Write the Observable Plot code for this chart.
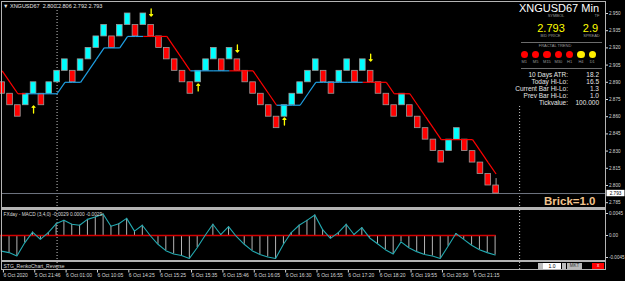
<!DOCTYPE html>
<html>
<head>
<meta charset="utf-8">
<script src="https://cdn.jsdelivr.net/npm/d3@7"></script>
<script src="https://cdn.jsdelivr.net/npm/@observablehq/plot@0.6"></script>
<style>
  html, body { margin: 0; padding: 0; background: #000; }
  #chart { position: relative; width: 625px; height: 281px; background: #000; overflow: hidden;
           font-family: "Liberation Sans", Arial, sans-serif; color: #ddd; }
  #chart svg { position: absolute; left: 0; }
  .ov { position: absolute; white-space: nowrap; line-height: 1; }
  .ln { position: absolute; background: #b4b4b4; }
</style>
</head>
<body>
<div id="chart"></div>
<script>
// ---------------- data ----------------
const symbol = "XNGUSD67";
const timeframe = "Min";
const headerOHLC = ["2.800", "2.806", "2.792", "2.793"];
const brickOpen  = [2.89,2.88,2.87,2.87,2.88,2.88,2.88,2.89,2.90,2.90,2.90,2.91,2.92,2.93,2.93,2.93,2.94,2.94,2.94,2.94,2.93,2.92,2.91,2.90,2.89,2.89,2.90,2.91,2.91,2.91,2.91,2.90,2.89,2.88,2.87,2.86,2.86,2.87,2.88,2.89,2.90,2.90,2.89,2.89,2.90,2.90,2.90,2.90,2.89,2.88,2.87,2.87,2.87,2.86,2.85,2.84,2.83,2.83,2.84,2.84,2.83,2.82,2.81,2.80];
const brickClose = [2.88,2.87,2.86,2.88,2.89,2.87,2.89,2.90,2.91,2.89,2.91,2.92,2.93,2.94,2.92,2.94,2.95,2.93,2.95,2.93,2.92,2.91,2.90,2.89,2.88,2.90,2.91,2.92,2.90,2.92,2.90,2.89,2.88,2.87,2.86,2.85,2.87,2.88,2.89,2.90,2.91,2.89,2.88,2.90,2.91,2.89,2.91,2.89,2.88,2.87,2.86,2.88,2.86,2.85,2.84,2.83,2.82,2.84,2.85,2.83,2.82,2.81,2.80,2.793];
const lastWickHigh = 2.806;
const bidPrice = 2.793;
const trendLine = [2.90,2.89,2.88,2.88,2.88,2.88,2.88,2.88, 2.89,2.89,2.89, 2.90,2.91,2.92, 2.92,2.92, 2.93,2.93,2.93,2.93,2.93,2.93, 2.92,2.91, 2.90,2.90,2.90,2.90,2.90,2.90,2.90,2.90,2.90, 2.89,2.88,2.87, 2.87,2.87,2.87, 2.88, 2.89,2.89,2.89,2.89,2.89,2.89,2.89,2.89,2.89,2.89, 2.88,2.88,2.88, 2.87,2.86,2.85, 2.84,2.84,2.84,2.84,2.84, 2.83,2.82,2.81];
const trendDir = [-1,-1,-1,-1, 1,1,1,1,1,1,1,1,1,1,1,1,1,1,1, -1,-1,-1,-1,-1,-1, 1,1,1,1,1, -1,-1,-1,-1,-1,-1, 1,1,1,1,1,1,1,1,1,1,1, -1,-1,-1,-1,-1,-1,-1,-1,-1,-1,-1,-1,-1,-1,-1,-1,-1];
const fractalIndex = [4, 19, 25, 30, 36, 47];
const fractalPrice = [2.8663, 2.9509, 2.8855, 2.9195, 2.8558, 2.9116];
const fractalDir   = [1, -1, 1, -1, 1, -1];
const macdValues = [-0.0032,-0.0035,-0.0042,-0.0015,0.0007,-0.0008,0.0006,0.0024,0.0031,0.0023,
  0.0021,0.0033,0.0038,0.0044,0.0019,0.0024,0.0035,0.0009,0.0021,0.0000,
  -0.0018,-0.0031,-0.0038,-0.0041,-0.0047,-0.0025,0.0000,0.0023,0.0002,0.0018,
  -0.0002,-0.0018,-0.0031,-0.0039,-0.0044,-0.0047,-0.0018,0.0006,0.0021,0.0031,
  0.0042,0.0012,-0.0006,0.0006,0.0023,0.0002,0.0016,-0.0005,-0.0017,-0.0029,
  -0.0038,-0.0013,-0.0025,-0.0033,-0.0039,-0.0042,-0.0047,-0.0022,0.0004,-0.0008,
  -0.0020,-0.0029,-0.0035,-0.0040];
const macdLabel = "FXday - MACD (3,4,0) -0.0029 0.0000 -0.0029";
const stgLabel = "STG_RenkoChart_Reverse";
const priceTicks = [2.950, 2.935, 2.920, 2.905, 2.890, 2.875, 2.860, 2.845, 2.830, 2.815, 2.800, 2.785];
const macdTicks = [0.0045, 0, -0.0045];
const macdTickLabels = ["0.0045", "0.00", "-0.0045"];
const timeTickIndex = [0, 4, 8, 12, 16, 20, 24, 28, 32, 36, 40, 44, 48, 52, 56, 60];
const timeTickLabels = ["6 Oct 2020","5 Oct 21:46","6 Oct 01:00","6 Oct 10:05","6 Oct 14:25","6 Oct 15:25","6 Oct 15:35","6 Oct 15:46","6 Oct 16:05","6 Oct 16:30","6 Oct 16:55","6 Oct 17:20","6 Oct 18:20","6 Oct 19:55","6 Oct 20:50","6 Oct 21:15"];
const separatorIndex = [7, 66];
const brickSize = "1.0";
const spreadValue = "2.9";
const fractalTF = ["M1","M5","M15","M30","H1","H4","D1"];
const fractalTrendTF = [-1,-1,-1,-1,-1,1,1];
const infoLabels = ["10 Days ATR:", "Today Hi-Lo:", "Current Bar Hi-Lo:", "Prev Bar Hi-Lo:", "Tickvalue:"];
const infoValues = ["18.2", "16.5", "1.3", "1.0", "100.000"];

// ---------------- rendering ----------------
const chart = document.getElementById("chart");
const FONT = "Liberation Sans, Arial, sans-serif";
const idx = d3.range(brickOpen.length);
const X = {domain: [0, brickOpen.length - 1], range: [1.7, 495.6], axis: null};
const baseStyle = {background: "#000", color: "#d8d8d8", fontFamily: FONT, overflow: "visible"};
const C = {up: "#00ffff", down: "#ff0000", tUp: "#1e9fe3", tDown: "#ff0000", sep: "#c8c8c8"};

const main = Plot.plot({
  width: 625, height: 208,
  marginLeft: 1, marginRight: 20, marginTop: 1, marginBottom: 1,
  style: baseStyle,
  x: X,
  y: {domain: [2.785, 2.95], range: [202.2, 13], axis: null},
  color: {type: "identity"},
  marks: [
    Plot.ruleX(separatorIndex, {stroke: C.sep, strokeDasharray: "1,2", strokeWidth: 1}),
    Plot.ruleY([bidPrice], {stroke: "#6e7480", strokeWidth: 1}),
    Plot.ruleX([idx.length - 1], {y1: i => brickOpen[i], y2: () => lastWickHigh, stroke: "#a0a0a0"}),
    Plot.rect(idx, {x1: i => i - 0.36, x2: i => i + 0.36, y1: i => brickOpen[i], y2: i => brickClose[i],
      fill: i => brickClose[i] > brickOpen[i] ? C.up : C.down, stroke: "#9a9a9a", strokeWidth: 0.8}),
    Plot.link(idx.slice(1), {x1: i => i - 1, y1: i => trendLine[i - 1], x2: i => i, y2: i => trendLine[i],
      stroke: i => trendDir[i] > 0 ? C.tUp : C.tDown, strokeWidth: 1.2}),
    Plot.vector(fractalIndex.map((_, k) => k), {x: k => fractalIndex[k], y: k => fractalPrice[k],
      rotate: k => fractalDir[k] > 0 ? 0 : 180, length: 7, anchor: "middle", stroke: "#ffff00", strokeWidth: 1.3}),
    Plot.text([`▼ ${symbol}  ${headerOHLC.join(" ")}`], {frameAnchor: "top-left", dx: 1.5, dy: 2.5,
      lineAnchor: "top", textAnchor: "start", fontSize: 5.5, fill: "#e6e6e6"}),
    Plot.text([`Brick=${brickSize}`], {frameAnchor: "bottom-right", dx: -10, dy: -3, lineAnchor: "bottom",
      textAnchor: "end", fontSize: 11.5, fontWeight: "bold", fill: "#f2c48d"}),
    Plot.axisY({ticks: priceTicks, anchor: "right", tickFormat: d3.format(".3f"), tickSize: 2, tickPadding: 1.5, fontSize: 4.6})
  ]
});
main.style.top = "0px";
chart.appendChild(main);
{
  const ys = main.scale("y");
  const by = ys.apply(bidPrice);
  const s = d3.select(main);
  s.append("rect").attr("x", 606.5).attr("y", by - 3.2).attr("width", 18).attr("height", 6.4).attr("fill", "#fff");
  s.append("text").attr("x", 615.5).attr("y", by).attr("dy", "0.35em").attr("text-anchor", "middle")
    .attr("font-size", 4.6).attr("fill", "#000").attr("font-family", FONT).text(d3.format(".3f")(bidPrice));
}

const macdFmt = new Map(macdTicks.map((t, i) => [t, macdTickLabels[i]]));
const macd = Plot.plot({
  width: 625, height: 54,
  marginLeft: 1, marginRight: 20, marginTop: 2, marginBottom: 2,
  style: baseStyle,
  x: X,
  y: {domain: [-0.0045, 0.0045], range: [49, 5], axis: null},
  marks: [
    Plot.ruleX(separatorIndex, {stroke: C.sep, strokeDasharray: "1,2", strokeWidth: 1}),
    Plot.ruleX(idx, {x: i => i, y1: 0, y2: i => macdValues[i], stroke: "#b4b4b4", strokeWidth: 1, dx: -1}),
    Plot.ruleY([0], {x1: () => -0.25, x2: () => idx.length - 1, stroke: "#d40000", strokeWidth: 1.5}),
    Plot.line(idx, {x: i => i, y: i => macdValues[i], stroke: "#22a9b0", strokeWidth: 1.1, dx: -1}),
    Plot.text([macdLabel], {frameAnchor: "top-left", dx: 2, dy: 1.6, lineAnchor: "top", textAnchor: "start",
      fontSize: 4.8, fill: "#dcdcdc"}),
    Plot.axisY({ticks: macdTicks, anchor: "right", tickFormat: d => macdFmt.get(d), tickSize: 2, tickPadding: 1.5, fontSize: 4.6})
  ]
});
macd.style.top = "208px";
chart.appendChild(macd);

const timeFmt = new Map(timeTickIndex.map((t, i) => [t, timeTickLabels[i]]));
const bottom = Plot.plot({
  width: 625, height: 19,
  marginLeft: 1, marginRight: 20, marginTop: 0, marginBottom: 11,
  style: baseStyle,
  x: X,
  marks: [
    Plot.ruleX(separatorIndex, {stroke: C.sep, strokeDasharray: "1,2", strokeWidth: 1}),
    Plot.text([stgLabel], {frameAnchor: "left", dx: 2, lineAnchor: "middle", textAnchor: "start", fontSize: 5, fill: "#dcdcdc"}),
    Plot.axisX({ticks: timeTickIndex, tickFormat: d => timeFmt.get(d), anchor: "bottom", tickSize: 2.5,
      tickPadding: 0.5, textAnchor: "start", dx: 1.2, fontSize: 5})
  ]
});
bottom.style.top = "262px";
chart.appendChild(bottom);

// ---------------- layout lines ----------------
function box(l, t, w, h, bg, cls = "ln") {
  const d = document.createElement("div");
  d.className = cls;
  Object.assign(d.style, {left: l + "px", top: t + "px", width: w + "px", height: h + "px"});
  if (bg) d.style.background = bg;
  chart.appendChild(d);
  return d;
}
box(1, 1, 605, 1);
box(1, 1, 1, 269);
box(605, 1, 1, 269);
box(1, 207, 605, 3);
box(1, 260, 605, 2);
box(1, 269, 605, 1);

function label(text, x, y, size, color, anchor = "start", extra = {}) {
  const d = document.createElement("div");
  d.className = "ov";
  d.textContent = text;
  const tx = anchor === "end" ? "-100%" : anchor === "middle" ? "-50%" : "0";
  Object.assign(d.style, {left: x + "px", top: y + "px", fontSize: size + "px", color,
    transform: `translate(${tx}, -50%)`}, extra);
  chart.appendChild(d);
  return d;
}

// ---------------- info panel ----------------
box(513, 2, 91, 104, "#000", "ov");
label(`${symbol} ${timeframe}`, 599, 8, 11, "#ffffff", "end");
label("SYMBOL", 556, 16, 4, "#9a9a9a", "middle");
label("TF", 597, 16, 4, "#9a9a9a", "middle");
label(d3.format(".3f")(bidPrice), 551, 28, 11, "#ffff00", "middle");
label(spreadValue, 590.5, 28, 11, "#ffff00", "middle");
label("BID PRICE", 550.5, 36, 4, "#9a9a9a", "middle");
label("SPREAD", 591.5, 36, 4, "#9a9a9a", "middle");
box(521, 42, 81, 1, "#6c6c6c");
label("FRACTAL TREND", 555, 46, 4, "#9a9a9a", "middle");
fractalTF.forEach((tf, k) => {
  const cx = 524.3 + k * 11.33;
  const dot = box(cx - 3.7, 54.3 - 3.7, 7.4, 7.4, fractalTrendTF[k] > 0 ? "#ffee00" : "#ff0000", "ov");
  dot.style.borderRadius = "50%";
  label(tf, cx, 62, 4, "#9a9a9a", "middle");
});
box(521, 68, 81, 1, "#6c6c6c");
infoLabels.forEach((t, k) => {
  label(t, 568, 75 + k * 6.9, 6.5, "#e6e6e6", "end");
  label(infoValues[k], 599, 75 + k * 6.9, 6.5, "#e6e6e6", "end");
});

// ---------------- bottom-right controls ----------------
box(538, 262.5, 4.5, 6.5, "#bdbdbd", "ov");
const vb = box(543, 262.5, 18, 6.5, "#ffffff", "ov");
label(brickSize, 552, 265.8, 5, "#000", "middle");
box(561.5, 262.5, 4, 6.5, "#bdbdbd", "ov");
box(567, 262.5, 15, 6.5, "#b8b8b8", "ov");
label("MKT", 574.5, 265.8, 4.5, "#333", "middle");
box(592, 262.5, 12, 6.5, "#ff0000", "ov");
label("x", 598, 265.6, 4.5, "#fff", "middle");
</script>
</body>
</html>
